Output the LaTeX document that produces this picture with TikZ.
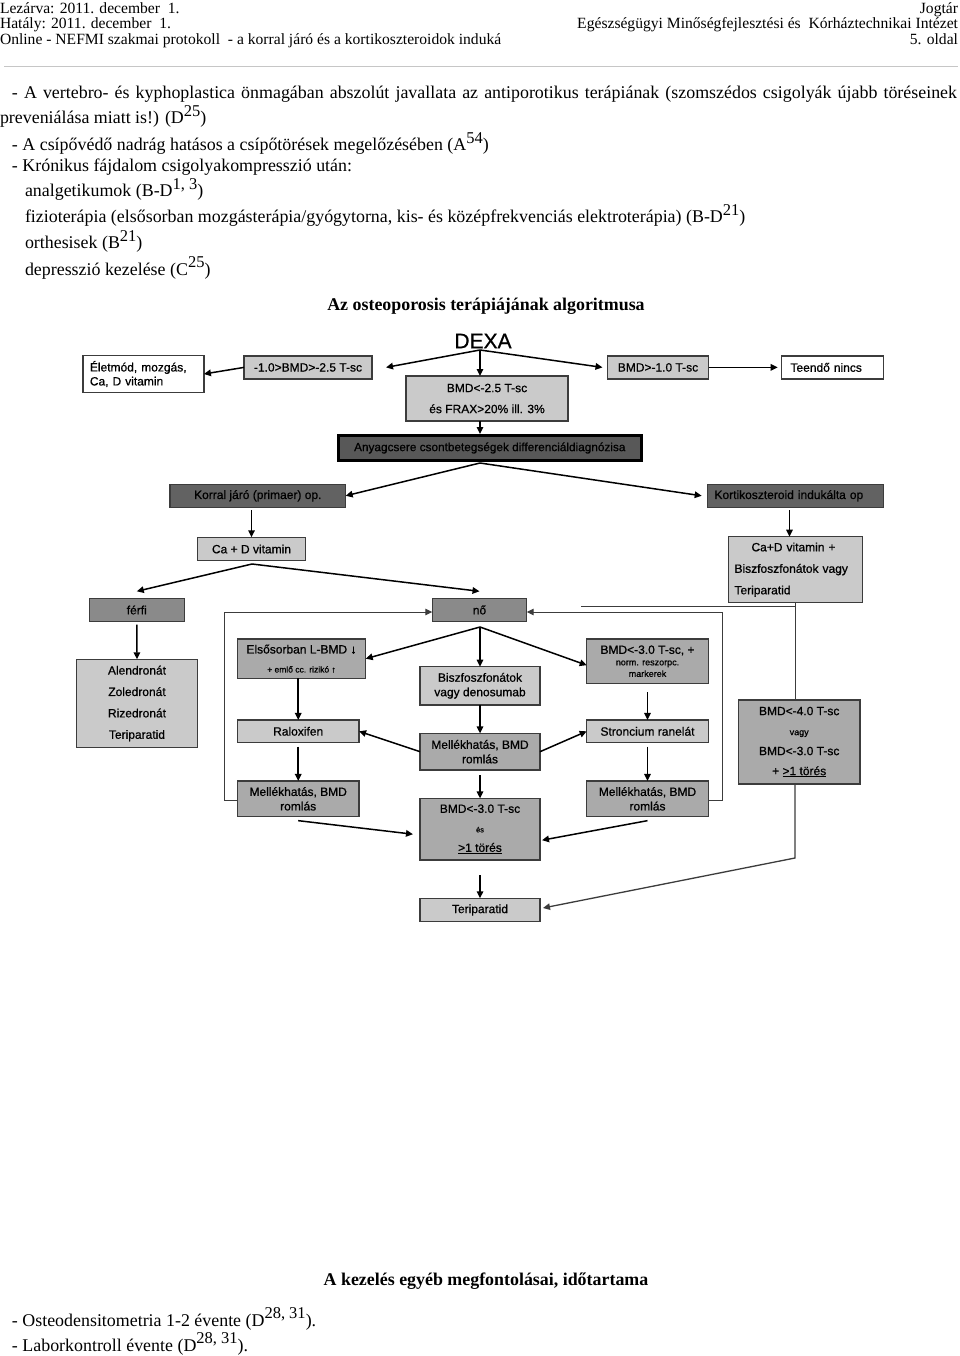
\documentclass[tikz,border=0pt]{standalone}
\usepackage{fontspec}
\setmainfont{Liberation Serif}
\newfontfamily\boxfont[FakeBold=0.7]{Liberation Sans}
\usetikzlibrary{arrows.meta}
\usetikzlibrary{positioning}

\definecolor{grayL}{RGB}{202,202,202}
\definecolor{grayM}{RGB}{170,170,170}
\definecolor{grayD}{RGB}{138,138,138}
\definecolor{grayK}{RGB}{98,98,98}
\definecolor{grayA}{RGB}{88,88,88}
\definecolor{boxline}{RGB}{60,60,60}

\newcommand{\hdr}{\fontsize{15.6}{16}\selectfont}
\newcommand{\bdy}{\fontsize{17.9}{19}\selectfont}
\newcommand{\upx}[1]{\raisebox{0.42em}{\fontsize{16.5}{16.5}\selectfont #1}}
\newcommand{\bx}[2]{\boxfont\fontsize{#1}{#2}\selectfont}

\begin{document}
\begin{tikzpicture}[x=1pt, y=-1pt,
every node/.style = {inner sep=0pt, outer sep=0pt},
    txt/.style = {anchor=base west, font=\bdy},
   fbox/.style = {draw=boxline, line width=1.2pt, align=center, font=\bx{12}{13}},
   lbox/.style = {fbox, fill=grayL},
   mbox/.style = {fbox, fill=grayM},
   dbox/.style = {fbox, fill=grayD},
   kbox/.style = {fbox, fill=grayK},
   wbox/.style = {fbox, fill=white},
    arr/.style = {line width=1.5pt, -{Triangle[length=7pt,width=6.5pt]}},
   larr/.style = {line width=1pt, draw=boxline, -{Triangle[length=7pt,width=6.5pt]}},
  lline/.style = {line width=1pt, draw=boxline}]

\fill[white] (0,0) rectangle (960,1356);
\useasboundingbox (0,0) rectangle (960,1356);

% header
\node[anchor=base west, font=\hdr] (lez) at (0,14) {Lezárva: 2011. december\ \ 1.};
\node[anchor=base west, font=\hdr] (hat) at (0,29) {Hatály: 2011. december\ \ 1.};
\node[anchor=base west, font=\hdr] (onl) at (0,45) {Online - NEFMI szakmai protokoll\ \ - a korral járó és a kortikoszteroidok induká};
\node[anchor=base east, font=\hdr] (jog) at (958,14) {Jogtár};
\node[anchor=base east, font=\hdr] (ege) at (958,29) {Egészségügyi Minőségfejlesztési és\ \ Kórháztechnikai Intézet};
\node[anchor=base east, font=\hdr] (old) at (958,45) {5. oldal};
\draw[gray!45, line width=1pt] (4,67) -- (958,67);

% text above the chart
\node[txt] (t1) at (12,99) {\makebox[945pt][s]{- A vertebro- és kyphoplastica önmagában abszolút javallata az antiporotikus terápiának (szomszédos csigolyák újabb töréseinek}};
\node[txt] (t2) at (0,124) {preveniálása miatt is!) (D\upx{25})};
\node[txt] (t3) at (12,151) {- A csípővédő nadrág hatásos a csípőtörések megelőzésében (A\upx{54})};
\node[txt] (t4) at (12,172) {- Krónikus fájdalom csigolyakompresszió után:};
\node[txt] (t5) at (25,197) {analgetikumok (B-D\upx{1, 3})};
\node[txt] (t6) at (25,223) {fizioterápia (elsősorban mozgásterápia/gyógytorna, kis- és középfrekvenciás elektroterápia) (B-D\upx{21})};
\node[txt] (t7) at (25,249) {orthesisek (B\upx{21})};
\node[txt] (t8) at (25,275) {depresszió kezelése (C\upx{25})};
\node[anchor=base, font=\bdy\bfseries] (title) at (486,310) {Az osteoporosis terápiájának algoritmusa};

% chart
\node[font=\bx{21}{21}] (dexa) at (483,341) {DEXA};
\node[wbox, minimum width=121pt, minimum height=37pt, text width=107pt, align=left, font=\bx{12}{14}] (elet) at (143.4,374) {Életmód, mozgás,\\Ca, D vitamin};
\node[lbox, minimum width=128pt, minimum height=23pt] (bmdA) at (308,367.4) {-1.0>BMD>-2.5 T-sc};
\node[lbox, minimum width=162pt, minimum height=45pt, font=\bx{12}{21}] (bmdB) at (487,398.5) {BMD<-2.5 T-sc\\és FRAX>20\% ill. 3\%};
\node[lbox, minimum width=101pt, minimum height=23pt] (bmdC) at (658,367.4) {BMD>-1.0 T-sc};
\node[wbox, minimum width=101.6pt, minimum height=23pt, text width=84pt, align=left] (teendo) at (832.5,367.4) {Teendő nincs};
\node[fbox, draw=black, line width=3pt, fill=grayA, minimum width=303pt, minimum height=25pt, font=\bx{11.8}{12}] (anyag) at (489.8,448) {Anyagcsere csontbetegségek differenciáldiagnózisa};
\node[kbox, minimum width=175.7pt, minimum height=23pt] (korral) at (257.8,495.8) {Korral járó (primaer) op.};
\node[kbox, minimum width=175.6pt, minimum height=23pt, text width=162pt, align=left] (kortiko) at (795.5,495.8) {Kortikoszteroid indukálta op};
\node[lbox, minimum width=108.4pt, minimum height=23.4pt] (cad) at (251.5,549) {Ca + D vitamin};
\node[lbox, minimum width=134.4pt, minimum height=66pt, text width=122pt, align=left, font=\bx{12}{21.5}] (cadplus) at (795.5,569.7) {\hspace*{17pt}Ca+D vitamin +\\Biszfoszfonátok vagy\\Teriparatid};
\node[dbox, minimum width=95pt, minimum height=23.4pt] (ferfi) at (136.8,610) {férfi};
\node[dbox, minimum width=94.4pt, minimum height=23.4pt] (no) at (479.5,610) {nő};
\node[lbox, minimum width=120.6pt, minimum height=88.4pt, font=\bx{12}{21.4}] (alend) at (137,703.5) {Alendronát\\Zoledronát\\Rizedronát\\Teriparatid};
\node[mbox, minimum width=128.4pt, minimum height=39.3pt, font=\bx{12}{19}] (elso) at (301.5,658.7) {Elsősorban L-BMD ↓\\{\fontsize{8.5}{8.5}\selectfont + emlő cc. rizikó ↑}};
\node[lbox, minimum width=120pt, minimum height=38.3pt, font=\bx{12}{14.5}] (bisz) at (480,685.8) {Biszfoszfonátok\\vagy denosumab};
\node[mbox, minimum width=121.6pt, minimum height=44.3pt, font=\bx{12}{11.5}] (bmdD) at (647.5,661.2) {BMD<-3.0 T-sc, +\\{\fontsize{9}{9}\selectfont norm. reszorpc.}\\{\fontsize{9}{9}\selectfont markerek}};
\node[lbox, minimum width=121.7pt, minimum height=22.7pt] (ralox) at (298.2,731.3) {Raloxifen};
\node[mbox, minimum width=120pt, minimum height=36.7pt, font=\bx{12}{14.5}] (mellM) at (480,751.7) {Mellékhatás, BMD\\romlás};
\node[lbox, minimum width=121.6pt, minimum height=22.7pt] (stronc) at (647.5,731.3) {Stroncium ranelát};
\node[mbox, minimum width=121.7pt, minimum height=35.7pt, font=\bx{12}{14.5}] (mellL) at (298.2,798.8) {Mellékhatás, BMD\\romlás};
\node[mbox, minimum width=121.6pt, minimum height=35.7pt, font=\bx{12}{14.5}] (mellR) at (647.5,798.8) {Mellékhatás, BMD\\romlás};
\node[mbox, minimum width=120pt, minimum height=61.7pt, font=\bx{12}{19.5}] (bmdE) at (480,829.2) {BMD<-3.0 T-sc\\{\fontsize{7.5}{7.5}\selectfont és}\\\underline{>1 törés}};
\node[lbox, minimum width=120pt, minimum height=23.4pt] (teri) at (480,910) {Teriparatid};
\node[mbox, minimum width=121.7pt, minimum height=84pt, font=\bx{12}{20}] (bmdF) at (799.2,742) {BMD<-4.0 T-sc\\{\fontsize{9}{9}\selectfont vagy}\\BMD<-3.0 T-sc\\+ \underline{>1 törés}};

% connectors
\coordinate (dexa-o) at (480,350);
\coordinate (anyag-o) at (480,463);
\coordinate (cad-o) at (252,564);
\coordinate (no-o) at (480,627);
\draw[arr] (dexa-o) -- ([xshift=14pt]bmdA.east);
\draw[arr] (dexa-o) -- (dexa-o |- bmdB.north);
\draw[arr] (dexa-o) -- ([xshift=-5pt]bmdC.west);
\draw[arr] (bmdC.east) -- ([xshift=-4pt]teendo.west);
\draw[arr] (bmdA.west) -- (elet.east);
\draw[arr] (bmdB.south -| dexa-o) -- ([yshift=1.5pt]anyag.north -| dexa-o);
\draw[arr] (anyag-o) -- (korral.east);
\draw[arr] (anyag-o) -- ([xshift=-6pt]kortiko.west);
\draw[arr] ([yshift=-3pt]korral.south -| cad.north) -- (cad.north);
\draw[arr] ([xshift=-6pt,yshift=-3pt]kortiko.south) -- ([xshift=-6pt]cadplus.north);
\draw[arr] (cad-o) -- ([yshift=7pt]ferfi.north);
\draw[arr] (cad-o) -- ([yshift=7pt]no.north);
\draw[arr] ([yshift=-3pt]ferfi.south) -- (alend.north);
\draw[arr] (no-o) -- (elso.east);
\draw[arr] (no-o) -- (bisz.north);
\draw[arr] (no-o) -- ([yshift=-4pt]bmdD.west);
\draw[arr] (elso.south -| ralox.north) -- (ralox.north);
\draw[arr] (bisz.south) -- (mellM.north);
\draw[arr] ([yshift=-9pt]bmdD.south) -- (stronc.north);
\draw[arr] (mellM.west) -- (ralox.east);
\draw[arr] (mellM.east) -- (stronc.west);
\draw[arr] ([yshift=-4pt]ralox.south) -- (mellL.north);
\draw[arr] ([yshift=-4pt]stronc.south) -- (mellR.north);
\draw[arr] ([yshift=-5pt]mellM.south) -- (bmdE.north);
\draw[arr] ([yshift=-4pt]mellL.south) -- ([xshift=-7pt,yshift=-5pt]bmdE.west);
\draw[arr] ([yshift=-4pt]mellR.south) -- ([xshift=2pt,yshift=-11pt]bmdE.east);
\draw[arr] ([yshift=-15pt]bmdE.south) -- (teri.north);

% side lines
\coordinate (bend-f) at (795,858);
\draw[larr, line width=1.3pt] (bmdF.south -| bend-f) -- (bend-f) -- ([xshift=3pt,yshift=2pt]teri.east);
\coordinate (loopL) at (224,800);
\coordinate (loopL-top) at (224,612);
\draw[larr] (mellL.west |- loopL) -- (loopL) -- (loopL-top) -- (loopL-top -| no.west);
\coordinate (loopR) at (722,800);
\coordinate (loopR-top) at (722,612);
\draw[larr] (mellR.east |- loopR) -- (loopR) -- (loopR-top) -- (loopR-top -| no.east);
\coordinate (cp-j) at (795,606);
\coordinate (cp-end) at (581,606);
\draw[lline] ([xshift=-0.5pt]cadplus.south) -- ([xshift=-0.5pt]cadplus.south |- bmdF.north);
\draw[lline] (cp-j) -- (cp-end);

% text below the chart
\node[anchor=base, font=\bdy\bfseries] (title2) at (486,1285) {A kezelés egyéb megfontolásai, időtartama};
\node[txt] (b1) at (12,1326) {- Osteodensitometria 1-2 évente (D\upx{28, 31}).};
\node[txt] (b2) at (12,1351) {- Laborkontroll évente (D\upx{28, 31}).};
\end{tikzpicture}
\end{document}
